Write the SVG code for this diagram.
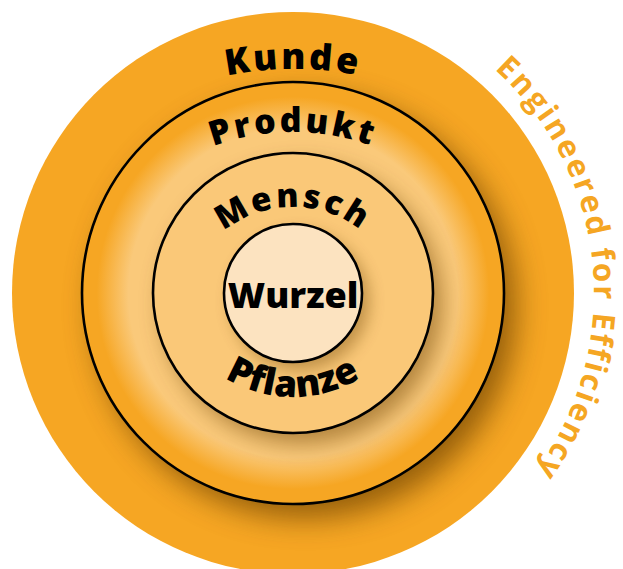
<svg xmlns="http://www.w3.org/2000/svg" width="623" height="569" viewBox="0 0 623 569">
  <style>
    .ring-line { stroke: #000; stroke-width: 2.6; }
    .label { font-family: "Open Sans", "Liberation Sans", sans-serif; font-weight: 800; fill: #000; }
    .tagline { font-family: "Open Sans", "Liberation Sans", sans-serif; font-weight: 700; fill: #F5A623; font-size: 31px; letter-spacing: 2.4px; }
    .shade { fill: #6a3f00; }
  </style>
  <defs>
    <radialGradient id="produktFill" cx="293" cy="293" r="211" gradientUnits="userSpaceOnUse">
      <stop offset="0" stop-color="#FAC97A"/>
      <stop offset="0.78" stop-color="#FAC97A"/>
      <stop offset="0.93" stop-color="#F6A623"/>
      <stop offset="1" stop-color="#F6A623"/>
    </radialGradient>
    <filter id="blurWide" x="-40%" y="-40%" width="180%" height="180%">
      <feGaussianBlur stdDeviation="15"/>
    </filter>
    <filter id="blurMid" x="-40%" y="-40%" width="180%" height="180%">
      <feGaussianBlur stdDeviation="11"/>
    </filter>
    <filter id="blurSmall" x="-50%" y="-50%" width="200%" height="200%">
      <feGaussianBlur stdDeviation="8"/>
    </filter>
    <clipPath id="clipOuter"><circle cx="293" cy="293" r="281"/></clipPath>
    <clipPath id="clipProdukt"><circle cx="293" cy="293" r="210"/></clipPath>
    <clipPath id="clipMensch"><circle cx="293" cy="293" r="139"/></clipPath>
    <!-- baselines for the curved labels -->
    <path id="kundeArc" d="M103.1,128.9 A331,331 0 0 1 482.9,128.9" fill="none"/>
    <path id="produktArc" d="M145.2,185.8 A230,230 0 0 1 440.8,185.8" fill="none"/>
    <path id="menschArc" d="M197.7,262 A110,110 0 0 1 388.3,262" fill="none"/>
    <path id="pflanzeArc" d="M180.4,332 A130,130 0 0 0 405.6,332" fill="none"/>
    <path id="taglineArc" d="M494.4,69.3 A301,301 0 0 1 478.3,530.2" fill="none"/>
  </defs>

  <!-- outermost ring -->
  <g id="kunde">
    <circle cx="293" cy="293" r="281" fill="#F6A623"/>
    <text class="label" font-size="36" letter-spacing="3" text-anchor="middle">
      <textPath href="#kundeArc" startOffset="50%">Kunde</textPath>
    </text>
  </g>

  <!-- second ring with its cast shadow -->
  <g id="produkt">
    <g clip-path="url(#clipOuter)">
      <circle class="shade" cx="305" cy="307" r="211" opacity="0.7" filter="url(#blurWide)"/>
    </g>
    <circle class="ring-line" cx="293" cy="293" r="211" fill="url(#produktFill)"/>
    <text class="label" font-size="34" letter-spacing="3" text-anchor="middle">
      <textPath href="#produktArc" startOffset="50%">Produkt</textPath>
    </text>
  </g>

  <!-- third ring -->
  <g id="mensch">
    <g clip-path="url(#clipProdukt)">
      <circle class="shade" cx="302" cy="304" r="140" opacity="0.5" filter="url(#blurMid)"/>
    </g>
    <circle class="ring-line" cx="293" cy="293" r="140" fill="#FAC878"/>
    <text class="label" font-size="33" letter-spacing="3" text-anchor="middle">
      <textPath href="#menschArc" startOffset="50%">Mensch</textPath>
    </text>
    <text class="label" font-size="37" letter-spacing="0.5" text-anchor="middle">
      <textPath href="#pflanzeArc" startOffset="50%">Pflanze</textPath>
    </text>
  </g>

  <!-- core -->
  <g id="wurzel">
    <g clip-path="url(#clipMensch)">
      <circle class="shade" cx="300" cy="301" r="69" opacity="0.4" filter="url(#blurSmall)"/>
    </g>
    <circle class="ring-line" cx="293" cy="293" r="69" fill="#FCE3C0"/>
    <text class="label" x="293" y="308" font-size="36" text-anchor="middle">Wurzel</text>
  </g>

  <!-- curved tagline on the right -->
  <g id="tagline">
    <text class="tagline">
      <textPath href="#taglineArc">Engineered for Efficiency</textPath>
    </text>
  </g>

  <g id="connectors"/>
</svg>
